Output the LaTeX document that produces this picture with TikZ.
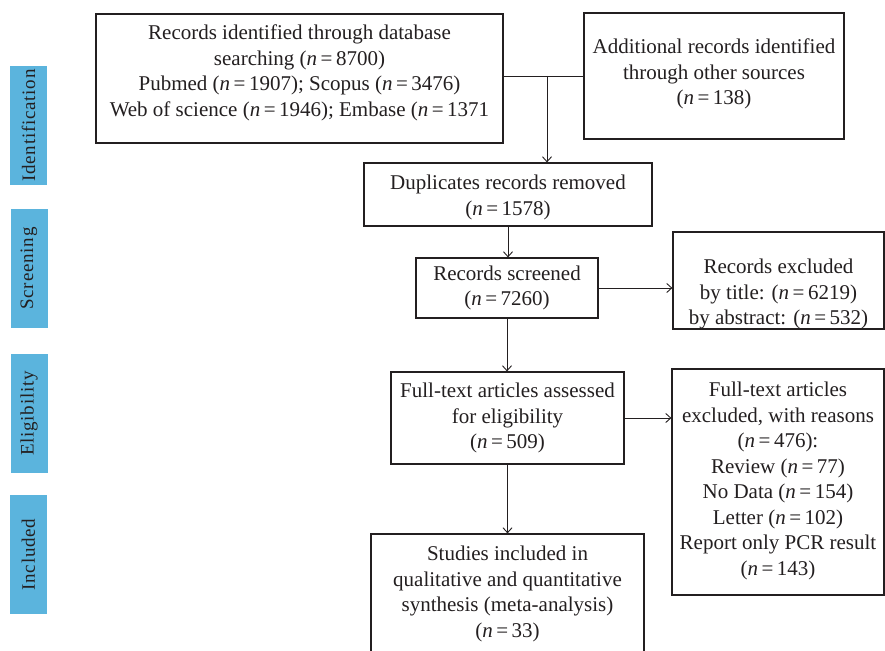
\documentclass[tikz,border=0pt]{standalone}
\usepackage{fontspec}
\setmainfont{Liberation Serif}
\usetikzlibrary{arrows.meta}
\definecolor{ink}{HTML}{231F20}
\definecolor{stageblue}{RGB}{91,180,221}
\newcommand{\nv}[1]{(\textit{n}\,=\,#1)}
\begin{document}
\begin{tikzpicture}[x=1pt,y=-1pt,
  boxtext/.style={font=\fontsize{21}{25.5}\selectfont, text=ink, align=center, inner sep=0pt},
  flowbox/.style={draw=ink, line width=1.2pt, inner sep=0pt, fill=white},
  stage/.style={fill=stageblue, text=ink, rotate=90, inner sep=0pt,
    minimum width=119pt, minimum height=37pt,
    font=\fontsize{19}{22}\selectfont\addfontfeatures{LetterSpace=4}},
  conn/.style={draw=ink, line width=0.9pt},
  arr/.style={conn, -{Straight Barb[length=5pt,width=9pt]}}]
\useasboundingbox (0,0) rectangle (885,650);
\clip (0,0) rectangle (885,650);

% stage labels
\node[stage] (sid) at (28.5,125.5) {Identification};
\node[stage] (ssc) at (29,268.5) {Screening};
\node[stage] (sel) at (29,413.5) {Eligibility};
\node[stage] (sin) at (28.5,554.5) {Included};

% boxes
\node[flowbox, minimum width=407pt, minimum height=129pt] (b1) at (299.5,78.5) {};
\node[flowbox, minimum width=260pt, minimum height=126pt] (b2) at (714,76) {};
\node[flowbox, minimum width=288pt, minimum height=63pt] (dup) at (508,194.5) {};
\node[flowbox, minimum width=182pt, minimum height=60pt] (scr) at (507,288) {};
\node[flowbox, minimum width=211pt, minimum height=97pt] (ex1) at (778.5,280.5) {};
\node[flowbox, minimum width=233pt, minimum height=92pt] (full) at (507.5,418) {};
\node[flowbox, minimum width=212pt, minimum height=226pt] (ex2) at (778,482) {};
\node[flowbox, minimum width=273pt, minimum height=120pt] (stud) at (507.5,594) {};

% box texts
\node[boxtext] (b1t) at (299.5,73)
  {Records identified through database\\ searching \nv{8700}\\ Pubmed \nv{1907}; Scopus \nv{3476}\\ Web of science \nv{1946}; Embase (\textit{n}\,=\,1371};
\node[boxtext] (b2t) at (714,74)
  {Additional records identified\\ through other sources\\ \nv{138}};
\node[boxtext] (dupt) at (508,197.5) {Duplicates records removed\\ \nv{1578}};
\node[boxtext] (scrt) at (507,288) {Records screened\\ \nv{7260}};
\node[boxtext] (ex1t) at (778.5,294) {Records excluded\\ by title: \nv{6219}\\ by abstract: \nv{532}};
\node[boxtext] (fullt) at (507.5,418) {Full-text articles assessed\\ for eligibility\\ \nv{509}};
\node[boxtext] (ex2t) at (778,481)
  {Full-text articles\\ excluded, with reasons\\ \nv{476}:\\ Review \nv{77}\\ No Data \nv{154}\\ Letter \nv{102}\\ Report only PCR result\\ \nv{143}};
\node[boxtext] (studt) at (507.5,594)
  {Studies included in\\ qualitative and quantitative\\ synthesis (meta-analysis)\\ \nv{33}};

% connectors
\draw[conn] (b2.west) -- (b2.west -| b1.east);
\coordinate (j) at (547,76);
\draw[arr] (j) -- (j |- dup.north);
\draw[arr] (dup.south) -- (dup.south |- scr.north);
\draw[arr] (scr.east) -- (scr.east -| ex1.west);
\draw[arr] (scr.south) -- (scr.south |- full.north);
\draw[arr] (full.east) -- (full.east -| ex2.west);
\draw[arr] (full.south) -- (full.south |- stud.north);
\end{tikzpicture}
\end{document}
